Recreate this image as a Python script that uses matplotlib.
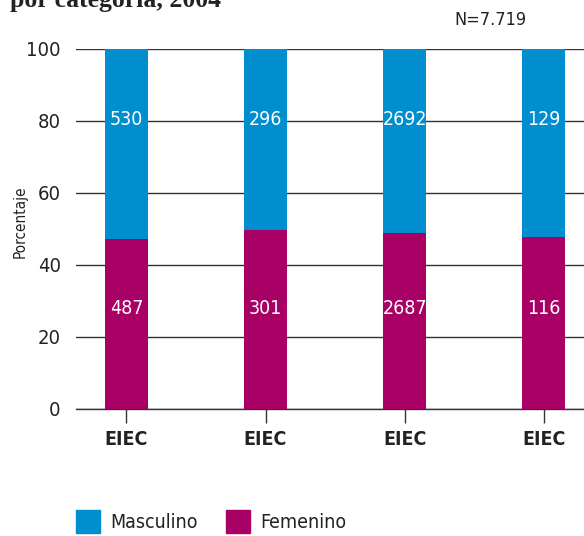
import matplotlib
matplotlib.use("Agg")
import matplotlib.pyplot as plt
from matplotlib.patches import Rectangle
from matplotlib import font_manager

names = {f.name for f in font_manager.fontManager.ttflist}
cond = "Liberation Sans Narrow" if "Liberation Sans Narrow" in names else "DejaVu Sans"
plt.rcParams['font.family'] = [cond, 'DejaVu Sans']
plt.rcParams['font.stretch'] = 'condensed'

categories = ["EIEC", "EIEC", "EIEC", "EIEC"]
femenino_pct = [47.2, 49.8, 48.95, 47.9]
masculino_counts = [530, 296, 2692, 129]
femenino_counts = [487, 301, 2687, 116]
yticks = [0, 20, 40, 60, 80, 100]

blue = "#008ECE"
mag = "#A80064"
dark = "#222222"
W, H = 584, 536
fig = plt.figure(figsize=(W/100, H/100), dpi=100)
ax = fig.add_axes([76/W, 1-409/H, (W-76)/W, (409-49)/H])

x = list(range(len(categories)))
masc_pct = [100 - f for f in femenino_pct]
bw = 0.31
ax.bar(x, femenino_pct, width=bw, color=mag, zorder=3)
ax.bar(x, masc_pct, width=bw, bottom=femenino_pct, color=blue, zorder=3)
for i in x:
    ax.text(i, 80.5, str(masculino_counts[i]), color="white", ha="center", va="center", fontsize=14, zorder=4)
    ax.text(i, 28, str(femenino_counts[i]), color="white", ha="center", va="center", fontsize=14, zorder=4)

ax.set_ylim(0, 100)
ax.set_xlim(-0.363, 3.29)
ax.set_yticks(yticks)
ax.yaxis.grid(True, color="#333333", linewidth=1.0, zorder=0)
ax.set_axisbelow(True)
for s in ["top", "right", "left"]:
    ax.spines[s].set_visible(False)
ax.spines["bottom"].set_color("#333333")
ax.spines["bottom"].set_linewidth(1.0)
ax.tick_params(axis="y", length=0, labelsize=14.5, pad=11, colors=dark)
ax.tick_params(axis="x", length=10, width=1, color="#333333", labelsize=14, pad=5)
ax.set_xticks(x)
ax.set_xticklabels(categories, fontweight="bold", color=dark)

fig.text(20/W, 1-222/H, "Porcentaje", fontsize=11, rotation=90, ha="center", va="center", color=dark)
fig.text(10/W, 1-7/H, "por categoría, 2004", fontsize=18.5, fontweight="bold",
         family=["Liberation Serif", "DejaVu Serif"], stretch="normal", va="baseline", color=dark)
fig.text(526/W, 1-20/H, "N=7.719", fontsize=13, ha="right", va="center", color=dark)

for xx, col, lab in [(76, blue, "Masculino"), (226, mag, "Femenino")]:
    fig.patches.append(Rectangle((xx/W, 1-533/H), 24/W, 23/H, transform=fig.transFigure, color=col))
    fig.text((xx+34)/W, 1-522/H, lab, fontsize=14, va="center", color=dark)

fig.savefig("out.png", dpi=100)
